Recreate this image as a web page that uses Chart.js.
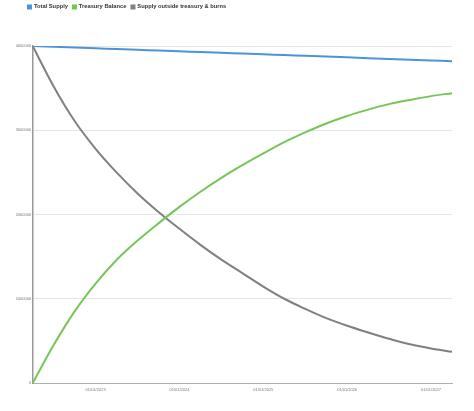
<!DOCTYPE html>
<html lang="en">
<head>
    <meta charset="UTF-8">
    <title>Supply</title>
    <style>
        body { margin: 0; padding: 0; background: #fff; font-family: "Liberation Sans", Arial, sans-serif; }
        #wrap { width: 474px; height: 411px; position: relative; }
    </style>
</head>
<body>
    <div id="wrap"><canvas id="supplyChart"></canvas></div>
    <script src="https://cdn.jsdelivr.net/npm/chart.js"></script>
    <script>
    // quarterly points
    const labels = ['04/01/2022', '07/01/2022', '10/01/2022',
        '01/01/2023', '04/01/2023', '07/01/2023', '10/01/2023',
        '01/01/2024', '04/01/2024', '07/01/2024', '10/01/2024',
        '01/01/2025', '04/01/2025', '07/01/2025', '10/01/2025',
        '01/01/2026', '04/01/2026', '07/01/2026', '10/01/2026',
        '01/01/2027', '04/01/2027'];
    const totalSupply = [4000000, 3991000, 3982000, 3973000, 3964000, 3955000, 3946000, 3937000, 3928000, 3919000, 3910000,
        3901000, 3892000, 3883000, 3874000, 3865000, 3856000, 3847000, 3838000, 3829000, 3820000];
    const treasuryBalance = [0, 450000, 850000, 1180000, 1460000, 1690000, 1895000, 2090000, 2270000, 2435000, 2585000,
        2725000, 2860000, 2975000, 3080000, 3170000, 3245000, 3310000, 3360000, 3405000, 3440000];
    const supplyOutside = [4000000, 3520000, 3110000, 2780000, 2500000, 2250000, 2030000, 1830000, 1640000, 1465000, 1305000,
        1145000, 1000000, 880000, 770000, 680000, 600000, 525000, 460000, 410000, 370000];
    const yMax = 4000000;
    const yStep = 1000000;

    // extra room under the legend, legend nudged right
    const legendPlace = {
        id: 'legendPlace',
        beforeInit(chart) {
            const fit = chart.legend.fit;
            chart.legend.fit = function () {
                fit.bind(chart.legend)();
                this.height = 47;
            };
        },
        beforeDraw(chart) {
            chart.legend.left = 23;
        }
    };

    function serie(label, data, color) {
        return {
            label: label,
            data: data,
            borderColor: color,
            backgroundColor: color,
            borderWidth: 2,
            pointRadius: 0,
            cubicInterpolationMode: 'monotone',
            fill: false
        };
    }

    new Chart(document.getElementById('supplyChart'), {
        type: 'line',
        data: {
            labels: labels,
            datasets: [
                serie('Total Supply', totalSupply, '#4a94dd'),
                serie('Treasury Balance', treasuryBalance, '#78c557'),
                serie('Supply outside treasury & burns', supplyOutside, '#808080')
            ]
        },
        plugins: [legendPlace],
        options: {
            responsive: true,
            maintainAspectRatio: false,
            animation: false,
            layout: { padding: { left: 14, right: 22, top: -1, bottom: 0 } },
            plugins: {
                tooltip: { enabled: false },
                legend: {
                    position: 'top',
                    align: 'start',
                    labels: {
                        boxWidth: 3,
                        boxHeight: 3,
                        padding: 5,
                        color: '#333',
                        font: { family: '"Liberation Sans", Arial, sans-serif', size: 5.75, weight: 'bold' }
                    }
                }
            },
            scales: {
                x: {
                    offset: false,
                    afterFit(scale) { scale.height = 28; },
                    grid: { display: false, drawTicks: false },
                    border: { display: true, color: '#b0b0b0', width: 1 },
                    ticks: {
                        autoSkip: false,
                        maxRotation: 0,
                        padding: 4,
                        color: '#777',
                        font: { family: '"Liberation Sans", Arial, sans-serif', size: 4 },
                        callback(value) {
                            const l = labels[value];
                            return l.startsWith('01/01') ? l : null;
                        }
                    }
                },
                y: {
                    min: 0,
                    max: yMax,
                    afterFit(scale) { scale.width = 18.7; },
                    grid: { color: '#e6e6e6', drawTicks: false },
                    border: { display: true, color: '#999', width: 1.5 },
                    ticks: {
                        stepSize: yStep,
                        padding: 1.5,
                        color: '#777',
                        font: { family: '"Liberation Sans", Arial, sans-serif', size: 4 },
                        callback(value) { return String(value); }
                    }
                }
            }
        }
    });
    </script>
</body>
</html>
